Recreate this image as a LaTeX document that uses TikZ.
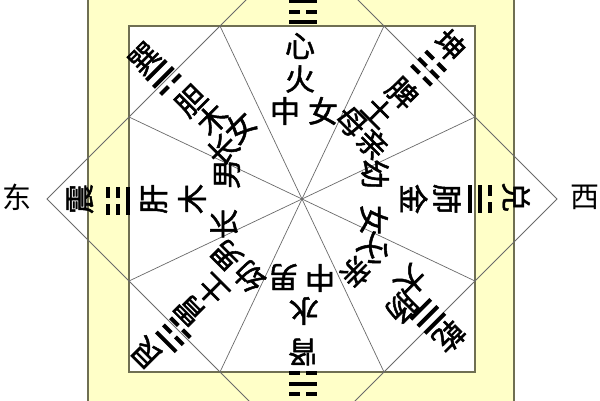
\documentclass[tikz,border=0pt]{standalone}
\usepackage{fontspec}
\newfontfamily\cjk{Noto Sans CJK SC}[FakeBold=1.6]
\newfontfamily\cjkdir{Noto Sans CJK SC}
\definecolor{bandyellow}{HTML}{FFFFC8}
\definecolor{frameline}{HTML}{6F6F52}
\definecolor{rayline}{HTML}{6A6A6A}
\newcommand{\yaoS}[2]{\fill[black] ({#1-14},{#2-2}) rectangle ({#1+14},{#2+2});}
\newcommand{\yaoB}[2]{\fill[black] ({#1-14},{#2-2}) rectangle ({#1-3},{#2+2}); \fill[black] ({#1+3},{#2-2}) rectangle ({#1+14},{#2+2});}
\begin{document}
\begin{tikzpicture}[x=1pt,y=1pt,
  ch/.style={font=\cjk\fontsize{30}{30}\selectfont, inner sep=0pt, text=black},
  dir/.style={font=\cjkdir\fontsize{29}{29}\selectfont, inner sep=0pt, text=black},
  ray/.style={draw=rayline, line width=0.7pt},
  edge/.style={draw=rayline, line width=0.8pt}]
\useasboundingbox (0,0) rectangle (600,400);
\clip (0,0) rectangle (600,400);
\coordinate (C) at (302,201);
% band and square
\path[fill=bandyellow, draw=frameline, line width=1.3pt] (88,-20) rectangle (514,420);
\path[fill=white, draw=frameline, line width=1.7pt] (129,28) rectangle (475,374);
% diamond
\coordinate (DL) at (47,201);
\coordinate (DT) at (302,456);
\coordinate (DR) at (557,201);
\coordinate (DB) at (302,-54);
\draw[edge] (DL) -- (DT) -- (DR) -- (DB) -- cycle;
% ray end points
\coordinate (L1) at (129,283);
\coordinate (T1) at (220,374);
\coordinate (T2) at (384,374);
\coordinate (R1) at (475,283);
\coordinate (R2) at (475,119);
\coordinate (B2) at (384,28);
\coordinate (B1) at (220,28);
\coordinate (L2) at (129,119);
\foreach \p in {L1,T1,T2,R1,R2,B2,B1,L2} \draw[ray] (C) -- (\p);
% directions
\node[dir] (east) at (17,203) {东};
\node[dir] (west) at (585,203) {西};
% top (Li)
\begin{scope}[shift={(C)}, rotate=0, transform shape]
  \yaoS{1}{177}\yaoB{1}{187}\yaoS{1}{198}
  \node[ch] (t1) at (-2,153) {心};
  \node[ch] (t2) at (-2,120) {火};
  \node[ch] (t3) at (-17,88) {中};
  \node[ch] (t4) at (21,88) {女};
\end{scope}
% left (Zhen)
\begin{scope}[shift={(C)}, rotate=90, transform shape]
  \yaoS{-2}{174}\yaoB{-2}{184}\yaoB{-2}{194}
  \node[ch] (l0) at (0,222) {震};
  \node[ch] (l1) at (0,148) {肝};
  \node[ch] (l2) at (0,110) {木};
  \node[ch] (l3) at (-25,78) {长};
  \node[ch] (l4) at (25,75) {男};
\end{scope}
% right (Dui)
\begin{scope}[shift={(C)}, rotate=-90, transform shape]
  \yaoS{0}{168}\yaoS{0}{178}\yaoB{0}{188}
  \node[ch] (r0) at (-2,214) {兑};
  \node[ch] (r1) at (0,145) {肺};
  \node[ch] (r2) at (0,112) {金};
  \node[ch] (r3) at (-25,73) {幼};
  \node[ch] (r4) at (21,72) {女};
\end{scope}
% bottom (Kan)
\begin{scope}[shift={(C)}, rotate=180, transform shape]
  \yaoB{-1}{174}\yaoS{-1}{185}\yaoB{-1}{195}
  \node[ch] (b1) at (-1,153) {肾};
  \node[ch] (b2) at (-2,112) {水};
  \node[ch] (b3) at (-18,79) {中};
  \node[ch] (b4) at (19,78) {男};
\end{scope}
% top-left (Xun)
\begin{scope}[shift={(C)}, rotate=45, transform shape]
  \yaoB{-12}{174}\yaoS{-12}{184}\yaoS{-12}{194}
  \node[ch] (tl0) at (-12,211) {巽};
  \node[ch] (tl1) at (-9,148) {胆};
  \node[ch] (tl2) at (-7,120) {木};
  \node[ch] (tl3) at (-21,91) {长};
  \node[ch] (tl4) at (7,95) {女};
\end{scope}
% top-right (Kun)
\begin{scope}[shift={(C)}, rotate=-45, transform shape]
  \yaoB{-3}{172}\yaoB{-3}{182}\yaoB{-3}{192}
  \node[ch] (tr0) at (-4,213) {坤};
  \node[ch] (tr1) at (-4,146) {脾};
  \node[ch] (tr2) at (-8,116) {土};
  \node[ch] (tr3) at (-20,89) {母};
  \node[ch] (tr4) at (11,89) {亲};
\end{scope}
% bottom-right (Qian)
\begin{scope}[shift={(C)}, rotate=-135, transform shape]
  \yaoS{-6}{162}\yaoS{-6}{172}\yaoS{-6}{182}
  \node[ch] (br0) at (-7,201) {乾};
  \node[ch] (br1) at (-19,135) {大};
  \node[ch] (br2) at (6,147) {肠};
  \node[ch] (br3) at (-15,87) {父};
  \node[ch] (br4) at (14,90) {亲};
\end{scope}
% bottom-left (Gen)
\begin{scope}[shift={(C)}, rotate=135, transform shape]
  \yaoB{-5}{177}\yaoB{-5}{187}\yaoS{-5}{197}
  \node[ch] (bl0) at (1,219) {艮};
  \node[ch] (bl1) at (1,158) {胃};
  \node[ch] (bl2) at (-1,128) {土};
  \node[ch] (bl3) at (-18,92) {幼};
  \node[ch] (bl4) at (14,93) {男};
\end{scope}
\end{tikzpicture}
\end{document}
